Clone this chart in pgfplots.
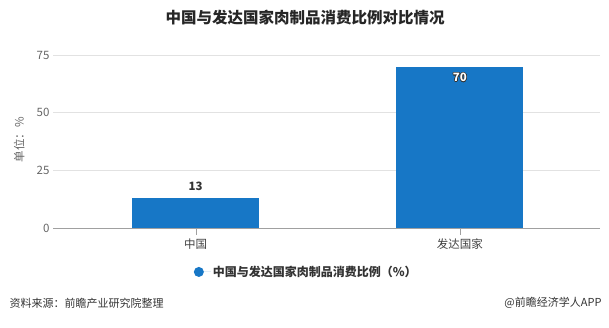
\documentclass[border=0pt]{standalone}
\usepackage{pgfplots}
\pgfplotsset{compat=1.18}
\usepackage{fontspec}
\setmainfont{Noto Sans CJK SC}
\usepackage{contour}
\contourlength{0.5pt}
\definecolor{barblue}{HTML}{1777C6}
\definecolor{ticktext}{HTML}{666666}
\definecolor{axisgray}{HTML}{A0A0A0}
\definecolor{gridgray}{HTML}{E2E2E2}
\begin{document}
\begin{tikzpicture}[x=1pt,y=1pt]
\useasboundingbox (0,0) rectangle (609,328);
\node[font=\bfseries\fontsize{15.5}{18}\selectfont, text=black!85] at (305,310) {中国与发达国家肉制品消费比例对比情况};
\begin{axis}[
  at={(53pt,100pt)}, anchor=south west,
  scale only axis, width=547pt, height=173pt,
  xmin=-0.54, xmax=1.53, ymin=0, ymax=75,
  ytick={0,25,50,75}, xtick={0,1}, xticklabels={中国,发达国家},
  axis lines*=left, axis line style={-},
  y axis line style={draw=none}, ytick style={draw=none},
  x axis line style={draw=axisgray},
  xtick style={draw=axisgray}, xtick align=outside, major tick length=7pt,
  ymajorgrids, grid style={draw=gridgray},
  /pgf/number format/assume math mode=true,
  ticklabel style={font=\fontsize{11.5}{13}\selectfont, text=ticktext},
  xticklabel style={text=black!75},
  ylabel={单位：\%}, ylabel style={font=\fontsize{11.5}{13}\selectfont, text=ticktext, at={(axis description cs:-0.062,0.51)}, anchor=center},
  ybar, bar width=127pt, bar shift=0pt,
  legend style={draw=none, at={(axis description cs:0.463,-0.254)}, anchor=center, font=\bfseries\fontsize{12}{14}\selectfont, text=black!80},
  legend image code/.code={\fill[barblue] (0,0) circle (5pt); \path (-5pt,0) -- (12pt,0);},
]
\addplot[fill=barblue, draw=none, nodes near coords, every node near coord/.style={font=\bfseries\fontsize{11.5}{13}\selectfont, text=black!80, anchor=south, yshift=4pt}] coordinates {(0,13)};
\addlegendentry{中国与发达国家肉制品消费比例（\%）}
\addplot[fill=barblue, draw=none, forget plot, nodes near coords={\contour{black!80}{\textcolor{white}{\pgfmathprintnumber{\pgfplotspointmeta}}}}, every node near coord/.style={font=\bfseries\fontsize{11.5}{13}\selectfont, anchor=north, yshift=-3pt}] coordinates {(1,70)};
\end{axis}
\node[anchor=west, font=\fontsize{11}{13}\selectfont, text=black!80] at (6,25) {资料来源：前瞻产业研究院整理};
\node[anchor=east, font=\fontsize{11}{13}\selectfont, text=black!80] at (605,25) {@前瞻经济学人APP};
\end{tikzpicture}
\end{document}
